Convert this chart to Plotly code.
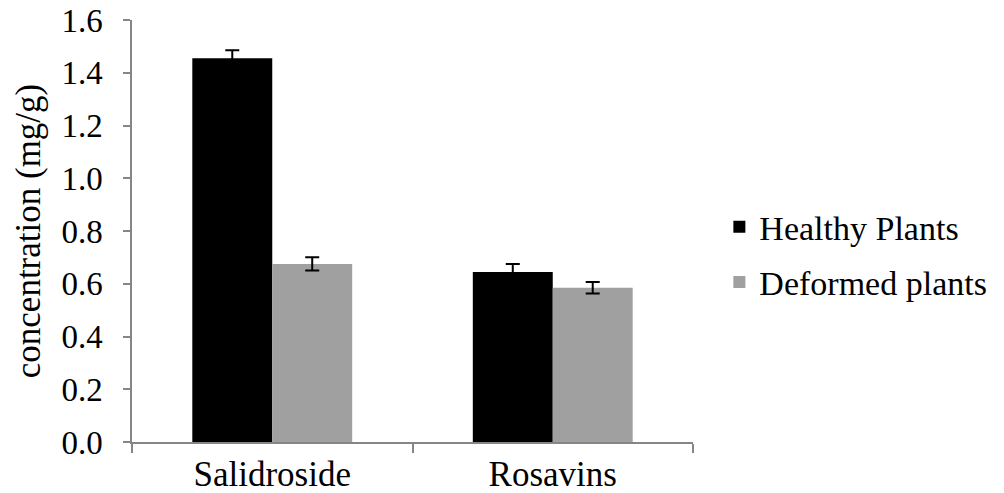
import plotly.graph_objects as go

categories = ["Salidroside", "Rosavins"]
healthy = [1.455, 0.645]
healthy_err = [0.03, 0.03]
deformed = [0.675, 0.585]
deformed_err = [0.025, 0.022]
y_ticks = [0.0, 0.2, 0.4, 0.6, 0.8, 1.0, 1.2, 1.4, 1.6]

font_family = "Liberation Serif, DejaVu Serif, serif"

fig = go.Figure()
fig.add_trace(go.Bar(
    name="Healthy Plants", x=categories, y=healthy,
    marker=dict(color="#000000", line=dict(width=0)),
    error_y=dict(type="data", array=healthy_err, color="#000000", thickness=2, width=7),
    legendgroup="a",
))
fig.add_trace(go.Bar(
    name="Deformed plants", x=categories, y=deformed,
    marker=dict(color="#a0a0a0", line=dict(width=0)),
    error_y=dict(type="data", array=deformed_err, color="#000000", thickness=2, width=7),
    legendgroup="b",
))

fig.update_layout(
    width=996, height=485,
    margin=dict(l=124, r=311, t=12, b=51),
    paper_bgcolor="white", plot_bgcolor="white",
    barmode="group", bargap=0.43, bargroupgap=0,
    font=dict(family=font_family, color="#000000"),
    showlegend=True,
    legend=dict(x=1.047, y=0.444, xanchor="left", yanchor="middle",
                font=dict(size=34, family=font_family), tracegroupgap=8,
                bgcolor="rgba(0,0,0,0)"),
    xaxis=dict(
        showline=True, linecolor="#868686", linewidth=1.5,
        ticks="outside", tickson="boundaries", ticklen=9, tickcolor="#868686", tickwidth=1.5,
        tickfont=dict(size=35, family=font_family),
        showgrid=False, automargin=False,
    ),
    yaxis=dict(
        range=[0, 1.6], tickvals=y_ticks, tickformat=".1f",
        showline=True, linecolor="#868686", linewidth=1.5,
        ticks="outside", ticklen=7, tickcolor="#868686", tickwidth=1.5,
        tickfont=dict(size=33, family=font_family),
        ticklabelstandoff=14, ticklabeloverflow="allow",
        showgrid=False, zeroline=False, automargin=False,
        title=dict(text="concentration (mg/g)", font=dict(size=35, family=font_family), standoff=10),
    ),
)

fig.write_html("out.html")
